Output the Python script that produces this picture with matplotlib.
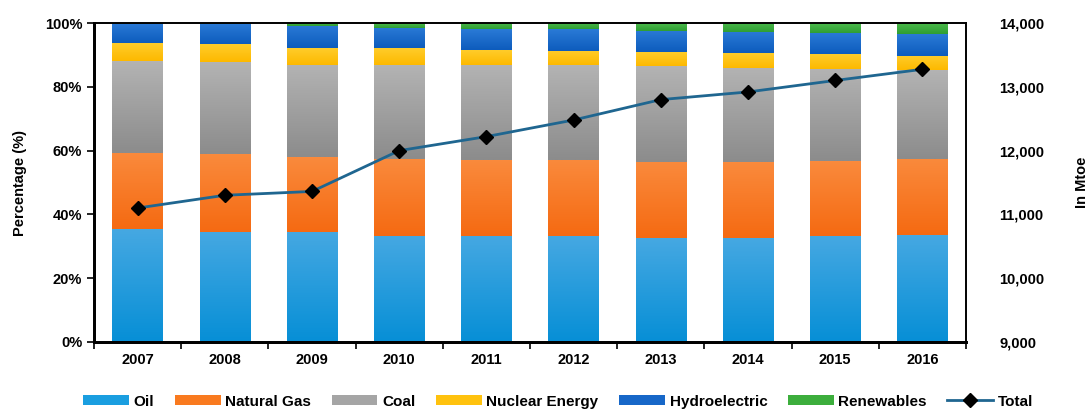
import numpy as np
import matplotlib.pyplot as plt
import matplotlib.ticker as ticker
from matplotlib.colors import LinearSegmentedColormap

plt.rcParams['font.family'] = ['Liberation Sans', 'DejaVu Sans']
plt.rcParams['font.weight'] = 'bold'

# Data (share of primary energy consumption, %)
years = ['2007', '2008', '2009', '2010', '2011', '2012', '2013', '2014', '2015', '2016']
oil = [35.4, 34.6, 34.6, 33.3, 33.3, 33.2, 32.6, 32.6, 33.2, 33.5]
natural_gas = [23.9, 24.4, 23.3, 24.2, 23.8, 23.9, 23.9, 23.7, 23.5, 23.9]
coal = [28.8, 28.8, 28.9, 29.3, 29.9, 29.7, 30.0, 29.7, 28.9, 27.9]
nuclear = [5.6, 5.5, 5.3, 5.3, 4.5, 4.5, 4.3, 4.5, 4.6, 4.4]
hydro = [6.0, 6.4, 6.9, 6.4, 6.5, 6.7, 6.7, 6.6, 6.7, 6.8]
renewables = [0.3, 0.3, 1.0, 1.5, 2.0, 2.0, 2.5, 2.9, 3.1, 3.5]
total = [11100, 11300, 11360, 12000, 12220, 12480, 12800, 12920, 13100, 13275]

# name, values, legend colour, (top, bottom) gradient colours
series = [
    ('Oil', oil, '#1a9ee0', ('#45a8e2', '#078fd6')),
    ('Natural Gas', natural_gas, '#f97a1f', ('#fa8a3c', '#f56a12')),
    ('Coal', coal, '#a5a5a5', ('#b3b3b3', '#8c8c8c')),
    ('Nuclear Energy', nuclear, '#ffc20e', ('#ffcc2a', '#fdb900')),
    ('Hydroelectric', hydro, '#1767c8', ('#2a7ad6', '#0d5cbd')),
    ('Renewables', renewables, '#3cae3c', ('#4cbb4c', '#2f9e33')),
]

fig = plt.figure(figsize=(10.88, 4.12), dpi=100)
ax = fig.add_axes([0.0864, 0.170, 0.8015, 0.774])

x = np.arange(len(years))
width = 0.58
bottom = np.zeros(len(years))
handles = []
grad = np.linspace(1, 0, 64).reshape(-1, 1)
for name, vals, color, (c_top, c_bot) in series:
    vals = np.array(vals)
    b = ax.bar(x, vals, width, bottom=bottom, color=color, label=name, zorder=2)
    handles.append(b)
    cmap = LinearSegmentedColormap.from_list(name, [c_bot, c_top])
    for xi, lo, h in zip(x, bottom, vals):
        ax.imshow(grad, cmap=cmap, aspect='auto', zorder=2.5, vmin=0, vmax=1,
                  extent=[xi - width / 2, xi + width / 2, lo, lo + h])
    bottom += vals

ax.set_xlim(-0.5, len(years) - 0.5)
ax.set_ylim(0, 100)
ax.set_xticks(x)
ax.set_xticklabels(years, fontsize=10.5, fontweight='bold')
ax.set_xticks(np.arange(-0.5, len(years)), minor=True)
ax.tick_params(axis='x', which='major', length=0, pad=8)
ax.tick_params(axis='x', which='minor', length=5, width=1.2, direction='out')
ax.yaxis.set_major_locator(ticker.MultipleLocator(20))
ax.yaxis.set_major_formatter(ticker.FuncFormatter(lambda v, _: f'{v:.0f}%'))
ax.tick_params(axis='y', labelsize=10.5, length=5, width=1.2)
for lab in ax.get_yticklabels():
    lab.set_fontweight('bold')
ax.set_ylabel('Percentage (%)', fontsize=10.5, fontweight='bold', labelpad=13)
for side in ['left', 'bottom']:
    ax.spines[side].set_linewidth(2)
for side in ['top', 'right']:
    ax.spines[side].set_linewidth(1.2)

ax2 = ax.twinx()
line, = ax2.plot(x, total, color='#1f6690', linewidth=2, marker='D',
                 markersize=7, markerfacecolor='black', markeredgecolor='black',
                 label='Total', zorder=3)
ax2.set_ylim(9000, 14000)
ax2.yaxis.set_major_locator(ticker.MultipleLocator(1000))
ax2.yaxis.set_major_formatter(ticker.FuncFormatter(lambda v, _: f'{v:,.0f}'))
ax2.tick_params(axis='y', labelsize=10.5, length=0, pad=24)
for lab in ax2.get_yticklabels():
    lab.set_fontweight('bold')
ax2.set_ylabel('In Mtoe', fontsize=10.5, fontweight='bold', labelpad=22)
for side in ['left', 'bottom']:
    ax2.spines[side].set_linewidth(2)
for side in ['top', 'right']:
    ax2.spines[side].set_linewidth(1.2)

fig.legend(handles + [line], [s[0] for s in series] + ['Total'],
           loc='lower center', bbox_to_anchor=(0.513, -0.025), ncol=7,
           frameon=False, fontsize=11, handlelength=3.0, handleheight=0.6,
           columnspacing=1.35, handletextpad=0.3)

fig.savefig('out.png', dpi=100)
